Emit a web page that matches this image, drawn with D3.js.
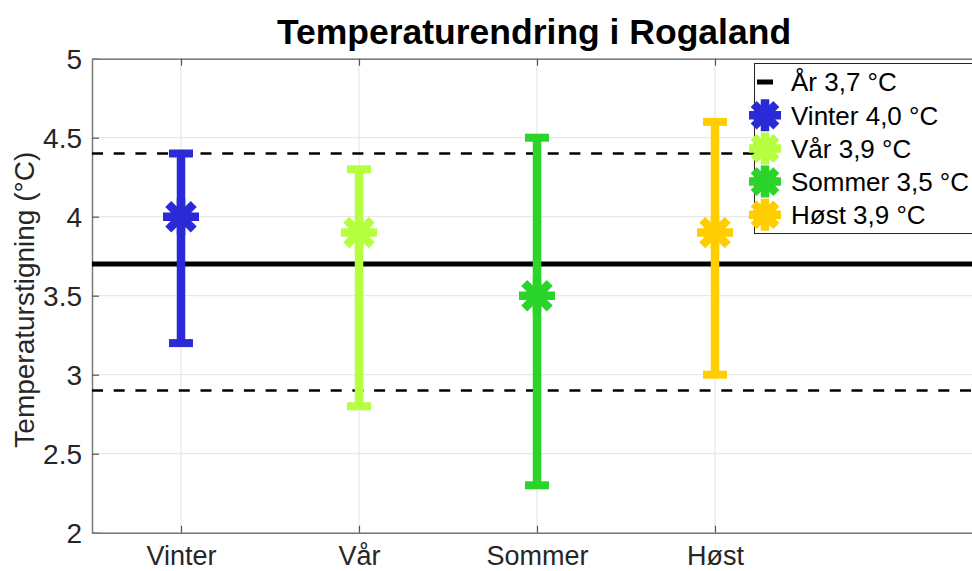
<!DOCTYPE html>
<html>
<head>
<meta charset="utf-8">
<script src="https://cdn.jsdelivr.net/npm/d3@7"></script>
<style>
  body { margin: 0; background: #fff; }
  svg { display: block; font-family: "Liberation Sans", Arial, sans-serif; }
</style>
</head>
<body>
<div id="chart"></div>
<script>
// data
var seasons = ["Vinter", "Vår", "Sommer", "Høst"]
var means = [4.0, 3.9, 3.5, 3.9]
var lows = [3.2, 2.8, 2.3, 3.0]
var highs = [4.4, 4.3, 4.5, 4.6]
var colors = ["#2a2ad6", "#b6ff40", "#2ad42a", "#ffcd00"]
var yearMean = 3.7
var yearBand = [2.9, 4.4]
var yTicks = [2, 2.5, 3, 3.5, 4, 4.5, 5]

var W = 972, H = 571
var margin = {top: 58.7, left: 92},
  width = 890,
  height = 474

var svg = d3.select("#chart").append("svg")
  .attr("width", W)
  .attr("height", H)

var x = d3.scaleLinear().domain([0.5, 5.5]).range([0, width])
var y = d3.scaleLinear().domain([2, 5]).range([height, 0])

var g = svg.append("g")
  .attr("transform", "translate(" + margin.left + "," + margin.top + ")")

// grid
g.selectAll(".gy").data(yTicks).enter().append("line")
  .attr("x1", 0).attr("x2", width)
  .attr("y1", d => y(d)).attr("y2", d => y(d))
  .attr("stroke", "#e3e3e3").attr("stroke-width", 1)
g.selectAll(".gx").data(seasons).enter().append("line")
  .attr("x1", (d, i) => x(i + 1)).attr("x2", (d, i) => x(i + 1))
  .attr("y1", 0).attr("y2", height)
  .attr("stroke", "#e3e3e3").attr("stroke-width", 1)

// axes
var yAxis = g.append("g")
  .call(d3.axisLeft(y).tickValues(yTicks).tickSizeInner(-7).tickSizeOuter(0).tickPadding(10)
    .tickFormat(d => d3.format("")(d)))
var yAxisR = g.append("g").attr("transform", "translate(" + width + ",0)")
  .call(d3.axisRight(y).tickValues(yTicks).tickSizeInner(-7).tickSizeOuter(0).tickFormat(""))
var xAxis = g.append("g").attr("transform", "translate(0," + height + ")")
  .call(d3.axisBottom(x).tickValues([1, 2, 3, 4]).tickSizeInner(-7).tickSizeOuter(0).tickPadding(13)
    .tickFormat((d, i) => seasons[i]))
var xAxisT = g.append("g")
  .call(d3.axisTop(x).tickValues([1, 2, 3, 4]).tickSizeInner(-7).tickSizeOuter(0).tickFormat(""))

;[yAxis, yAxisR, xAxis, xAxisT].forEach(function(a) {
  a.select(".domain").attr("stroke", "#7a7a7a").attr("stroke-width", 1.5)
  a.selectAll(".tick line").attr("stroke", "#555").attr("stroke-width", 1.2)
  a.selectAll("text").attr("fill", "#262626").style("font-size", "28px")
})
yAxis.selectAll("text").attr("dy", "0.36em")
xAxis.selectAll("text").attr("dy", "0.71em").style("font-size", "27px")

// reference lines
g.selectAll(".band").data(yearBand).enter().append("line")
  .attr("x1", 0).attr("x2", width)
  .attr("y1", d => y(d)).attr("y2", d => y(d))
  .attr("stroke", "#000").attr("stroke-width", 2.6)
  .attr("stroke-dasharray", "11,10.7")
g.append("line")
  .attr("x1", 0).attr("x2", width)
  .attr("y1", y(yearMean)).attr("y2", y(yearMean))
  .attr("stroke", "#000").attr("stroke-width", 5)

// asterisk marker
function asterisk(sel, cx, cy, r, color) {
  var d = r * Math.SQRT1_2
  var p = "M" + (cx - r) + "," + cy + "H" + (cx + r) +
    "M" + cx + "," + (cy - r) + "V" + (cy + r) +
    "M" + (cx - d) + "," + (cy - d) + "L" + (cx + d) + "," + (cy + d) +
    "M" + (cx - d) + "," + (cy + d) + "L" + (cx + d) + "," + (cy - d)
  sel.append("path").attr("d", p)
    .attr("stroke", color).attr("stroke-width", 8.5).attr("fill", "none")
}

// error bars
seasons.forEach(function(s, i) {
  var cx = x(i + 1)
  var eb = g.append("g")
  eb.append("line")
    .attr("x1", cx).attr("x2", cx)
    .attr("y1", y(lows[i])).attr("y2", y(highs[i]))
    .attr("stroke", colors[i]).attr("stroke-width", 8.5)
  ;[lows[i], highs[i]].forEach(function(v) {
    eb.append("line")
      .attr("x1", cx - 12).attr("x2", cx + 12)
      .attr("y1", y(v)).attr("y2", y(v))
      .attr("stroke", colors[i]).attr("stroke-width", 8)
  })
  asterisk(eb, cx, y(means[i]), 18, colors[i])
})

// title and y label
svg.append("text")
  .attr("x", margin.left + width / 2 - 3).attr("y", 44)
  .attr("text-anchor", "middle")
  .style("font-size", "35.5px").style("font-weight", "bold")
  .attr("fill", "#000")
  .text("Temperaturendring i Rogaland")
svg.append("text")
  .attr("transform", "translate(34," + (margin.top + height / 2 + 4) + ") rotate(-90)")
  .attr("text-anchor", "middle")
  .style("font-size", "28px")
  .attr("fill", "#262626")
  .text("Temperaturstigning (°C)")

// legend
var fmt = v => d3.format(".1f")(v).replace(".", ",") + " °C"
var legend = svg.append("g")
legend.append("rect")
  .attr("x", 754.5).attr("y", 63.5).attr("width", 260).attr("height", 170)
  .attr("fill", "#fff").attr("stroke", "#262626").attr("stroke-width", 1)
var ly0 = 82, lstep = 33.2
legend.append("line")
  .attr("x1", 757).attr("x2", 773)
  .attr("y1", ly0).attr("y2", ly0)
  .attr("stroke", "#000").attr("stroke-width", 5)
legend.append("text")
  .attr("x", 791).attr("y", ly0).attr("dy", "0.36em")
  .style("font-size", "26px").attr("fill", "#000")
  .text("År " + fmt(yearMean))
seasons.forEach(function(s, i) {
  var ly = ly0 + lstep * (i + 1)
  asterisk(legend, 765, ly, 16, colors[i])
  legend.append("text")
    .attr("x", 791).attr("y", ly).attr("dy", "0.36em")
    .style("font-size", "26px").attr("fill", "#000")
    .text(s + " " + fmt(means[i]))
})
</script>
</body>
</html>
